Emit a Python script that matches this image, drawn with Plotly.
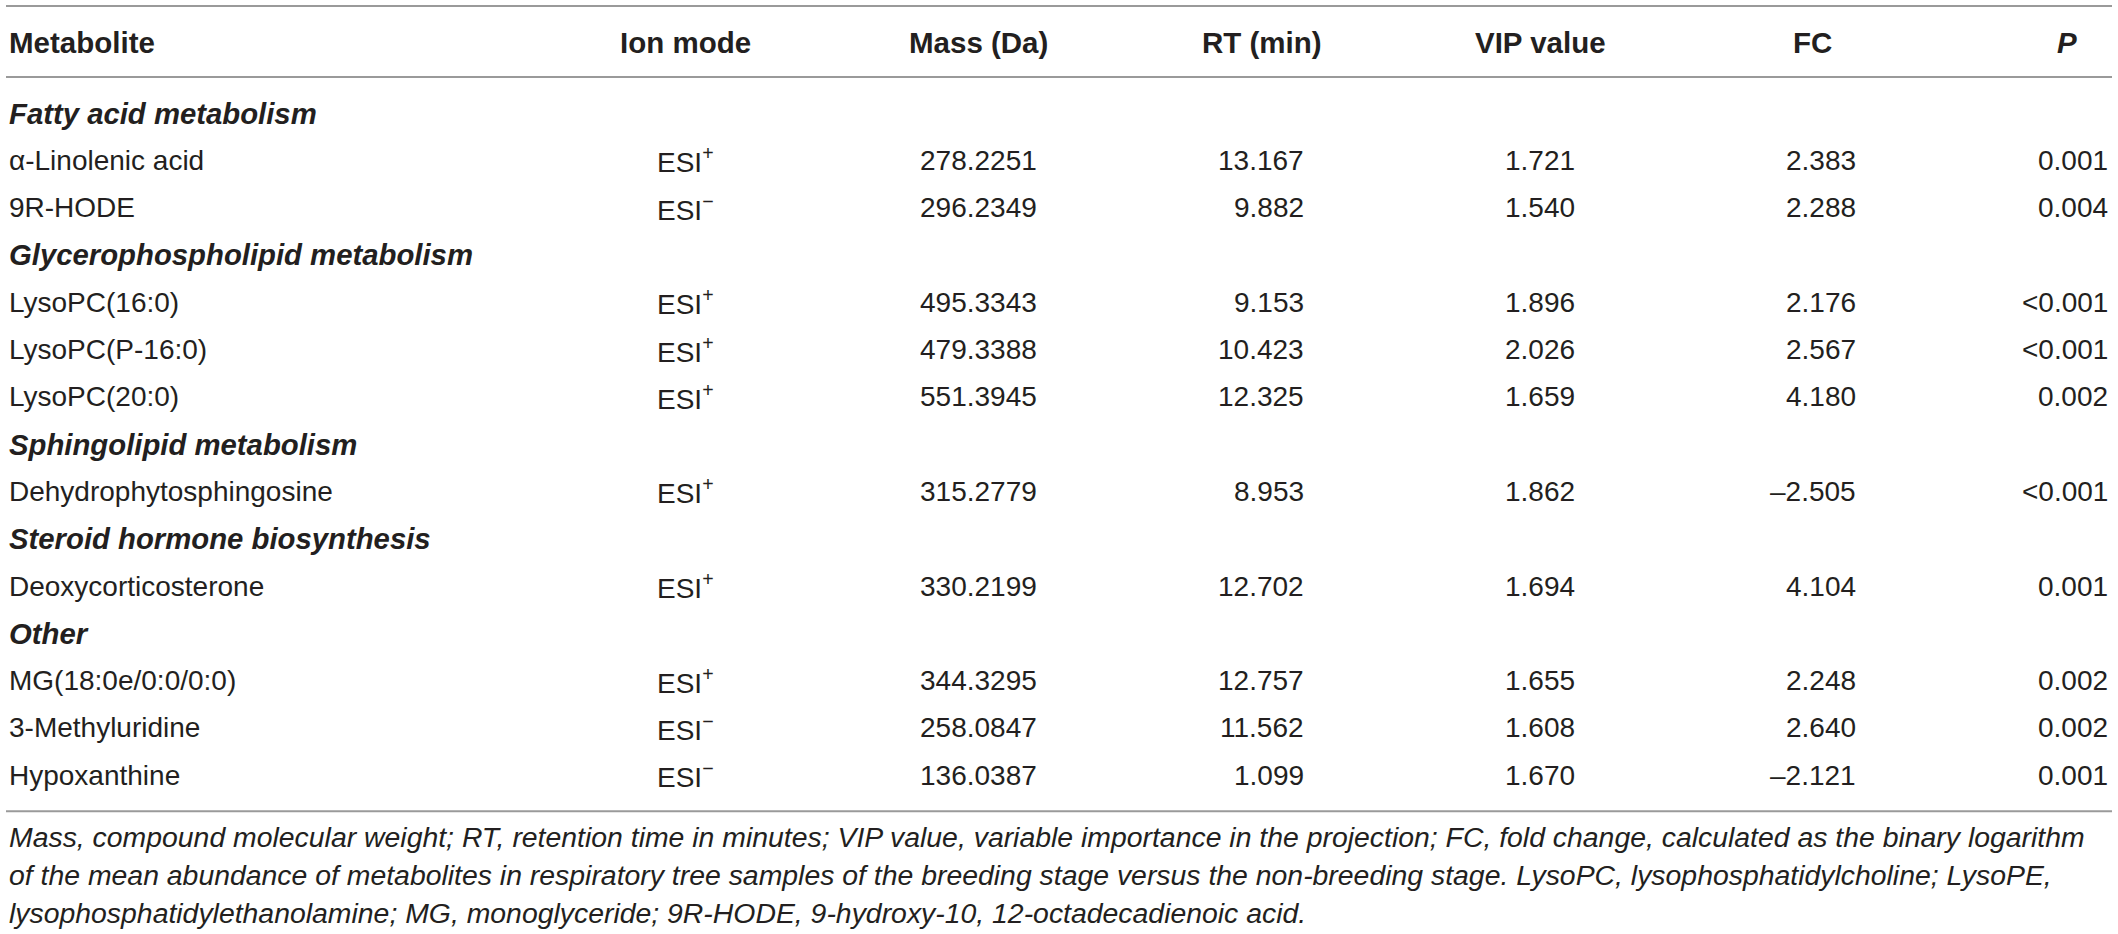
import plotly.graph_objects as go

# table content
columns = ["Metabolite", "Ion mode", "Mass (Da)", "RT (min)", "VIP value", "FC", "<i>P</i>"]

sections = ["Fatty acid metabolism", "Glycerophospholipid metabolism", "Sphingolipid metabolism",
            "Steroid hormone biosynthesis", "Other"]
section_sizes = [2, 3, 1, 1, 3]

metabolites = ["α-Linolenic acid", "9R-HODE", "LysoPC(16:0)", "LysoPC(P-16:0)", "LysoPC(20:0)",
               "Dehydrophytosphingosine", "Deoxycorticosterone", "MG(18:0e/0:0/0:0)",
               "3-Methyluridine", "Hypoxanthine"]
ion_sign = ["+", "−", "+", "+", "+", "+", "+", "+", "−", "−"]
mass = [278.2251, 296.2349, 495.3343, 479.3388, 551.3945, 315.2779, 330.2199, 344.3295, 258.0847, 136.0387]
rt = [13.167, 9.882, 9.153, 10.423, 12.325, 8.953, 12.702, 12.757, 11.562, 1.099]
vip = [1.721, 1.540, 1.896, 2.026, 1.659, 1.862, 1.694, 1.655, 1.608, 1.670]
fc = [2.383, 2.288, 2.176, 2.567, 4.180, -2.505, 4.104, 2.248, 2.640, -2.121]
p_values = ["0.001", "0.004", "<0.001", "<0.001", "0.002", "<0.001", "0.001", "0.002", "0.002", "0.001"]

footnote = [
    "Mass, compound molecular weight; RT, retention time in minutes; VIP value, variable importance in the projection; FC, fold change, calculated as the binary logarithm",
    "of the mean abundance of metabolites in respiratory tree samples of the breeding stage versus the non-breeding stage. LysoPC, lysophosphatidylcholine; LysoPE,",
    "lysophosphatidylethanolamine; MG, monoglyceride; 9R-HODE, 9-hydroxy-10, 12-octadecadienoic acid.",
]

W, H = 2118, 934
ROW0, PITCH = 113, 47.3   # pixel centre of first body row, row pitch
FONT = "Liberation Sans, Arial, sans-serif"
INK = "#231f20"
RULE = "#9a9a9a"

# column anchors: (header x, header anchor, value x, value anchor)
col_pos = [(7, "left", 7, "left"), (685, "center", 685, "center"), (978, "center", 978, "center"),
           (1262, "center", 1306, "right"), (1540, "center", 1540, "center"),
           (1812, "center", 1858, "right"), (2067, "center", 2110, "right")]


def fmt_neg(v):
    return f"{v:.3f}".replace("-", "–")


# build body rows (section headings interleaved)
rows = []
k = 0
for name, n in zip(sections, section_sizes):
    rows.append(("section", name))
    for _ in range(n):
        rows.append(("data", k))
        k += 1

ann = []


def txt(x, r, s, anchor, size=28, color=INK):
    ann.append(dict(x=x, y=r, xref="x", yref="y", text=s, showarrow=False,
                    xanchor=anchor, yanchor="middle", font=dict(family=FONT, size=size, color=color)))


# header
for (hx, ha, _, _), c in zip(col_pos, columns):
    txt(hx, -1.5, f"<b>{c}</b>", ha, size=29.5)

for r, (kind, val) in enumerate(rows):
    if kind == "section":
        txt(col_pos[0][0], r, f"<b><i>{val}</i></b>", "left", size=29.3)
        continue
    i = val
    cells = [metabolites[i], f"ESI<sup>{ion_sign[i]}</sup>", f"{mass[i]:.4f}", f"{rt[i]:.3f}",
             f"{vip[i]:.3f}", fmt_neg(fc[i]), p_values[i].replace("<", "&lt;")]
    for (_, _, vx, va), s in zip(col_pos, cells):
        txt(vx, r, s, va)

# footnote lines
for j, line in enumerate(footnote):
    txt(7, 15.3 + j * 0.81, f"<i>{line}</i>", "left", size=28.4)

fig = go.Figure()
# invisible trace so the axes exist
fig.add_trace(go.Scatter(x=[0, W], y=[0, 0], mode="markers", marker=dict(opacity=0), hoverinfo="skip",
                         showlegend=False))

# horizontal rules (top, under header, bottom)
for r in [-2.26, -0.76, 14.76]:
    fig.add_shape(type="line", x0=6, x1=2112, y0=r, y1=r, xref="x", yref="y",
                  line=dict(color=RULE, width=2))

fig.update_layout(
    width=W, height=H,
    margin=dict(l=0, r=0, t=0, b=0),
    paper_bgcolor="white", plot_bgcolor="white",
    xaxis=dict(range=[0, W], visible=False, fixedrange=True),
    yaxis=dict(range=[(H - ROW0) / PITCH, -ROW0 / PITCH], visible=False, fixedrange=True),
    annotations=ann,
    showlegend=False,
)

fig.write_html("out.html", config={"displayModeBar": False},
               post_script="document.body.style.margin='0';document.body.style.overflow='hidden';")
